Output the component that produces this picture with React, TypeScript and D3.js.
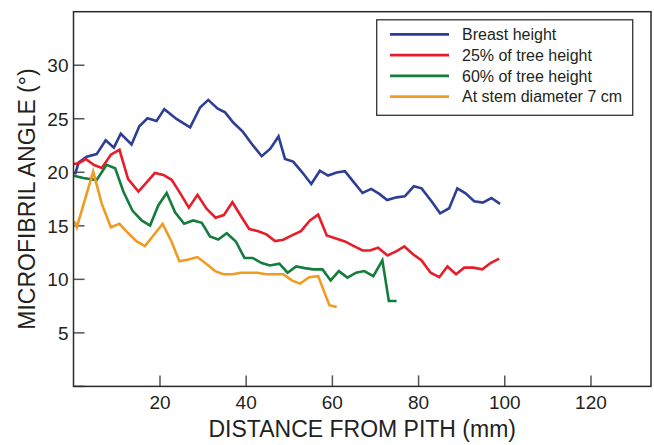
import React from "react";
import * as d3 from "d3";

// Distances (mm) and microfibril angles (°) for each height
const breastDist = [0.3, 1.1, 3.0, 5.3, 7.4, 9.3, 10.9, 13.4, 15.2, 17.1, 19.2, 21.0, 23.9, 27.0, 29.3, 31.2, 33.4, 35.1, 37.0, 39.2, 41.4, 43.6, 45.6, 47.5, 49.0, 50.9, 53.0, 55.1, 57.1, 59.0, 61.0, 62.9, 65.0, 67.0, 69.0, 70.9, 72.7, 74.9, 76.8, 78.9, 80.7, 83.0, 85.0, 87.1, 89.0, 90.9, 92.9, 94.9, 96.9, 98.9];
const breastMfa = [19.8, 20.9, 21.45, 21.7, 23.0, 22.3, 23.6, 22.6, 24.3, 25.05, 24.8, 25.9, 24.96, 24.2, 26.05, 26.76, 25.95, 25.6, 24.65, 23.8, 22.6, 21.5, 22.2, 23.35, 21.25, 21.0, 20.0, 18.9, 20.15, 19.7, 19.98, 20.1, 19.06, 18.07, 18.45, 17.98, 17.4, 17.66, 17.76, 18.69, 18.5, 17.3, 16.17, 16.64, 18.5, 18.04, 17.3, 17.17, 17.6, 17.05];

const h25Dist = [0.0, 1.05, 2.8, 4.7, 6.5, 8.6, 10.6, 12.6, 15.0, 16.9, 18.8, 20.8, 22.7, 24.6, 26.7, 28.7, 30.8, 32.9, 34.8, 36.8, 38.7, 40.7, 42.8, 44.7, 46.7, 48.6, 50.6, 52.7, 54.8, 56.7, 58.7, 61.0, 62.9, 65.0, 67.0, 68.7, 70.6, 72.8, 74.9, 76.7, 78.7, 80.7, 82.8, 84.8, 86.7, 88.7, 90.6, 92.7, 94.8, 96.7, 98.7];
const h25Mfa = [20.77, 20.83, 21.24, 20.68, 20.4, 21.64, 22.1, 19.37, 18.2, 19.05, 19.93, 19.75, 19.3, 18.1, 16.7, 17.9, 16.6, 15.75, 16.0, 17.2, 15.96, 14.7, 14.5, 14.2, 13.57, 13.7, 14.1, 14.5, 15.5, 16.05, 14.1, 13.8, 13.54, 13.1, 12.7, 12.7, 12.95, 12.23, 12.64, 13.07, 12.35, 11.77, 10.62, 10.2, 11.2, 10.47, 11.09, 11.09, 10.93, 11.52, 11.93];

const h60Dist = [0.0, 2.2, 5.3, 7.6, 9.6, 11.5, 13.6, 15.75, 17.7, 19.6, 21.55, 23.5, 25.6, 27.7, 29.7, 31.6, 33.5, 35.5, 37.6, 39.6, 41.5, 43.6, 45.5, 47.7, 49.6, 51.6, 53.6, 55.6, 57.7, 59.6, 61.5, 63.5, 65.5, 67.4, 69.5, 71.6, 73.1, 74.9];
const h60Mfa = [19.68, 19.47, 19.28, 20.7, 20.37, 18.2, 16.42, 15.5, 15.03, 16.9, 18.07, 16.27, 15.19, 15.5, 15.28, 14.0, 13.72, 14.31, 13.54, 12.0, 12.0, 11.52, 11.3, 11.46, 10.62, 11.2, 11.05, 10.93, 10.93, 9.9, 10.77, 10.16, 10.62, 10.77, 10.3, 11.77, 7.98, 7.98];

const d7Dist = [0.2, 0.7, 4.5, 6.5, 8.6, 10.6, 12.65, 14.6, 16.5, 18.6, 20.6, 22.7, 24.5, 26.6, 28.7, 30.7, 32.8, 34.7, 36.9, 38.7, 40.5, 42.6, 44.6, 46.7, 48.6, 50.6, 52.5, 54.6, 56.7, 59.3, 61.0];
const d7Mfa = [15.4, 14.87, 20.06, 17.05, 14.87, 15.18, 14.3, 13.54, 13.1, 14.16, 15.18, 13.5, 11.68, 11.86, 12.08, 11.46, 10.77, 10.47, 10.47, 10.62, 10.62, 10.62, 10.47, 10.47, 10.47, 9.9, 9.6, 10.2, 10.3, 7.58, 7.42];

const seriesNames = ["Breast height", "25% of tree height", "60% of tree height", "At stem diameter 7 cm"];
const seriesColors = ["#2e3e94", "#e61e2a", "#157d3c", "#f29b22"];
const seriesDist = [breastDist, h25Dist, h60Dist, d7Dist];
const seriesMfa = [breastMfa, h25Mfa, h60Mfa, d7Mfa];

const xTicks = [20, 40, 60, 80, 100, 120];
const yTicks = [0, 5, 10, 15, 20, 25, 30];
const xTitle = "DISTANCE FROM PITH (mm)";
const yTitle = "MICROFIBRIL ANGLE (°)";

const W = 654;
const H = 445;
const plotLeft = 73.5;
const plotRight = 651;
const plotTop = 11.7;
const plotBottom = 386.4;
const font = "'Liberation Sans', Arial, Helvetica, sans-serif";
const textColor = "#231f20";

export default function App() {
  const x = d3.scaleLinear().domain([0, 134]).range([73.8, 651.3]);
  const y = d3.scaleLinear().domain([0, 35]).range([plotBottom, plotTop]);
  const line = d3
    .line<[number, number]>()
    .x((d) => x(d[0]))
    .y((d) => y(d[1]));

  const legendX = 376.7;
  const legendY = 19.8;
  const legendW = 256;
  const legendH = 95.5;
  const rowY = (i: number) => 34.3 + i * 20.8;

  return (
    <svg
      width={W}
      height={H}
      style={{ position: "absolute", left: 0, top: 0, background: "#fff" }}
      fontFamily={font}
    >
      <rect x={0} y={0} width={W} height={H} fill="#fff" />
      {/* ticks */}
      {yTicks.map((t) => (
        <g key={"y" + t}>
          <line x1={plotLeft} x2={plotLeft + 11} y1={y(t)} y2={y(t)} stroke="#555" strokeWidth={1.5} />
          {t > 0 && (
            <text x={68.5} y={y(t) + 7} textAnchor="end" fontSize={19} fill={textColor}>
              {t}
            </text>
          )}
        </g>
      ))}
      {xTicks.map((t) => (
        <g key={"x" + t}>
          <line x1={x(t)} x2={x(t)} y1={plotBottom} y2={plotBottom - 11} stroke="#555" strokeWidth={1.5} />
          <text x={x(t)} y={409} textAnchor="middle" fontSize={19} fill={textColor}>
            {t}
          </text>
        </g>
      ))}
      {/* series */}
      {seriesNames.map((name, i) => {
        const pts = seriesDist[i].map((d, j) => [d, seriesMfa[i][j]] as [number, number]);
        return (
          <path
            key={name}
            d={line(pts) || ""}
            fill="none"
            stroke={seriesColors[i]}
            strokeWidth={2.6}
            strokeLinejoin="miter"
          />
        );
      })}
      {/* frame */}
      <rect
        x={plotLeft}
        y={plotTop}
        width={plotRight - plotLeft}
        height={plotBottom - plotTop}
        fill="none"
        stroke="#2a2a2a"
        strokeWidth={1.5}
      />
      {/* legend */}
      <rect x={legendX} y={legendY} width={legendW} height={legendH} fill="#fff" stroke="#333" strokeWidth={1.3} />
      {seriesNames.map((name, i) => (
        <g key={"lg" + i}>
          <line x1={390} x2={449} y1={rowY(i)} y2={rowY(i)} stroke={seriesColors[i]} strokeWidth={2.8} />
          <text x={462} y={rowY(i) + 5.7} fontSize={16} fill={textColor}>
            {name}
          </text>
        </g>
      ))}
      {/* axis titles */}
      <text x={(plotLeft + plotRight) / 2} y={437} textAnchor="middle" fontSize={23} fill={textColor}>
        {xTitle}
      </text>
      <text
        transform={`translate(35,${(plotTop + plotBottom) / 2}) rotate(-90)`}
        textAnchor="middle"
        fontSize={23}
        fill={textColor}
      >
        {yTitle}
      </text>
    </svg>
  );
}
